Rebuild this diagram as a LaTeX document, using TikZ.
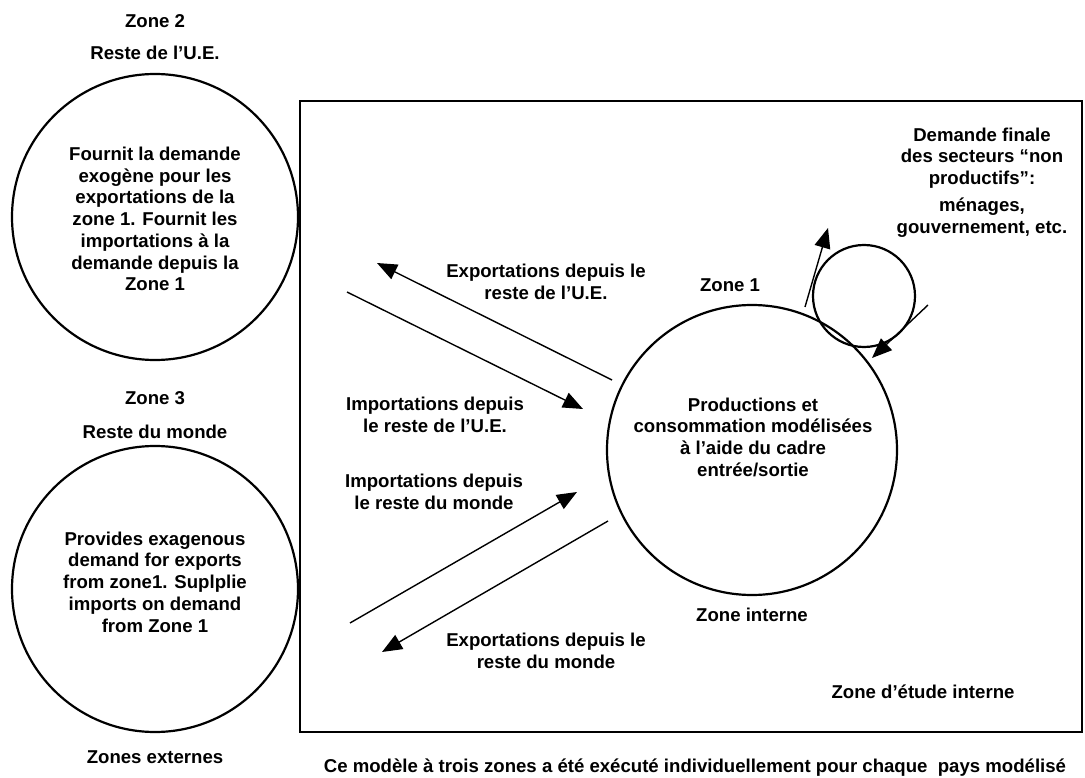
\documentclass[tikz,border=0pt]{standalone}
\usepackage{fontspec}
\setmainfont{Liberation Sans}
\usetikzlibrary{arrows.meta,positioning}
\newcommand{\zonefont}{\fontsize{18.6pt}{21.7pt}\selectfont\bfseries}

\begin{document}
\begin{tikzpicture}[x=1pt,y=-1pt,
  lbl/.style={font=\zonefont, align=center, inner sep=0pt},
  zonecircle/.style={draw, circle, line width=2.2pt, inner sep=0pt},
  flow/.style={line width=1.4pt, -{Triangle[length=20pt,width=16pt]}}]
\useasboundingbox (0,0) rectangle (1085,778);

% Internal study zone frame
\draw[line width=2pt] (300,101) rectangle (1082,732);

% Zone 2
\node[lbl] (z2title) at (155,21) {Zone 2};
\node[lbl] (z2name) at (155,53) {Reste de l’U.E.};
\node[zonecircle, minimum size=286pt] (zone2) at (155,217) {};
\node[lbl] (z2text) at (155,219) {Fournit la demande\\exogène pour les\\exportations de la\\zone 1. Fournit les\\importations à la\\demande depuis la\\Zone 1};

% Zone 3
\node[lbl] (z3title) at (155,398) {Zone 3};
\node[lbl] (z3name) at (155,432) {Reste du monde};
\node[zonecircle, minimum size=286pt] (zone3) at (155,589) {};
\node[lbl] (z3text) at (155,582) {Provides exagenous\\demand for exports\\from zone1. Suplplie\\imports on demand\\from Zone 1};
\node[lbl] (externes) at (155,757) {Zones externes};

% Zone 1
\node[lbl] (z1title) at (730,285) {Zone 1};
\node[zonecircle, minimum size=290pt] (zone1) at (752,450) {};
\node[lbl] (z1text) at (753,437) {Productions et\\consommation modélisées\\à l’aide du cadre\\entrée/sortie};
\node[lbl] (interne) at (752,615) {Zone interne};

% Final demand
\node[zonecircle, minimum size=102pt] (menages) at (864,296) {};
\node[lbl] (demande) at (982,158) {Demande finale\\des secteurs “non\\productifs”:};
\node[lbl] (menagestext) at (982,218) {ménages,\\gouvernement, etc.};

\node[lbl] (etude) at (923,692) {Zone d’étude interne};
\node[lbl] (caption) at (695,768) {Ce modèle à trois zones a été exécuté individuellement pour chaque\ \ pays modélisé};

% Flow labels
\node[lbl] (exUElbl) at (546,282) {Exportations depuis le\\reste de l’U.E.};
\node[lbl] (imUElbl) at (435,415) {Importations depuis\\le reste de l’U.E.};
\node[lbl] (imMlbl) at (434,492) {Importations depuis\\le reste du monde};
\node[lbl] (exMlbl) at (546,651) {Exportations depuis le\\reste du monde};

% Flow ends
\coordinate (exUEa) at (612,380); \coordinate (exUEb) at (377,263);
\coordinate (imUEa) at (347,292); \coordinate (imUEb) at (583,409);
\coordinate (imMa) at (350,623);  \coordinate (imMb) at (577,492);
\coordinate (exMa) at (608,521);  \coordinate (exMb) at (382,652);
\coordinate (outa) at (805,307);  \coordinate (outb) at (828,228);
\coordinate (ina) at (928,305);   \coordinate (inb) at (872,358);

\foreach \a/\b in {exUEa/exUEb, imUEa/imUEb, imMa/imMb, exMa/exMb, outa/outb, ina/inb}
  \draw[flow] (\a) -- (\b);

\end{tikzpicture}
\end{document}
